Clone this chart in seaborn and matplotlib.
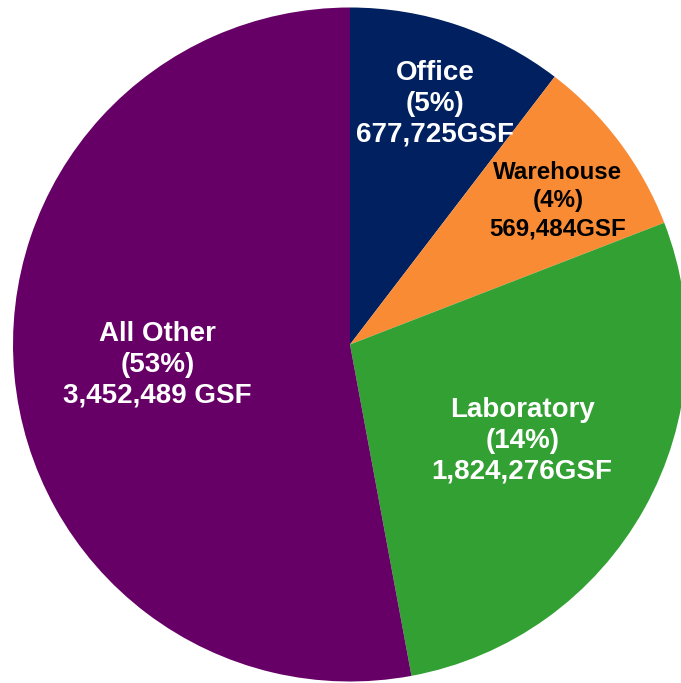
import numpy as np
import matplotlib
matplotlib.use("Agg")
import matplotlib.pyplot as plt
import seaborn as sns

categories = ["Office", "Warehouse", "Laboratory", "All Other"]
gsf_values = [677725, 569484, 1824276, 3452489]
pct_labels = ["5%", "4%", "14%", "53%"]
gsf_labels = ["677,725GSF", "569,484GSF", "1,824,276GSF", "3,452,489 GSF"]
colors = ["#002060", "#F98B35", "#33A033", "#660066"]
text_colors = ["white", "black", "white", "white"]
font_sizes = [20, 17.4, 20, 20]
label_dist = [0.757, 0.75, 0.585, 0.575]
label_angle_shift = [-0.8, -2.2, 0.0, 0.8]
line_spacings = [1.23, 1.27, 1.23, 1.23]

sns.set_theme(style="white")
plt.rcParams["font.family"] = ["Liberation Sans", "DejaVu Sans"]

W, H = 681, 683
fig = plt.figure(figsize=(W / 100, H / 100), dpi=100)
ax = fig.add_axes([0, 0, 1, 1])

wedges, _ = ax.pie(gsf_values, colors=colors, startangle=90, counterclock=False,
                   radius=1, center=(0, 0),
                   wedgeprops=dict(linewidth=0, antialiased=True))

R = 337.0
cx, cy = 350.0, 344.5
ax.set_xlim(-cx / R, (W - cx) / R)
ax.set_ylim(-(H - cy) / R, cy / R)
ax.set_aspect("auto")
ax.axis("off")

for w, name, pct, g, tc, fs, d, da, ls in zip(wedges, categories, pct_labels, gsf_labels,
                                              text_colors, font_sizes, label_dist,
                                              label_angle_shift, line_spacings):
    ang = np.deg2rad((w.theta1 + w.theta2) / 2 + da)
    x, y = d * np.cos(ang), d * np.sin(ang)
    ax.text(x, y, f"{name}\n({pct})\n{g}", ha="center", va="center",
            color=tc, fontsize=fs, fontweight="bold", linespacing=ls)

fig.savefig("out.png", dpi=100)
